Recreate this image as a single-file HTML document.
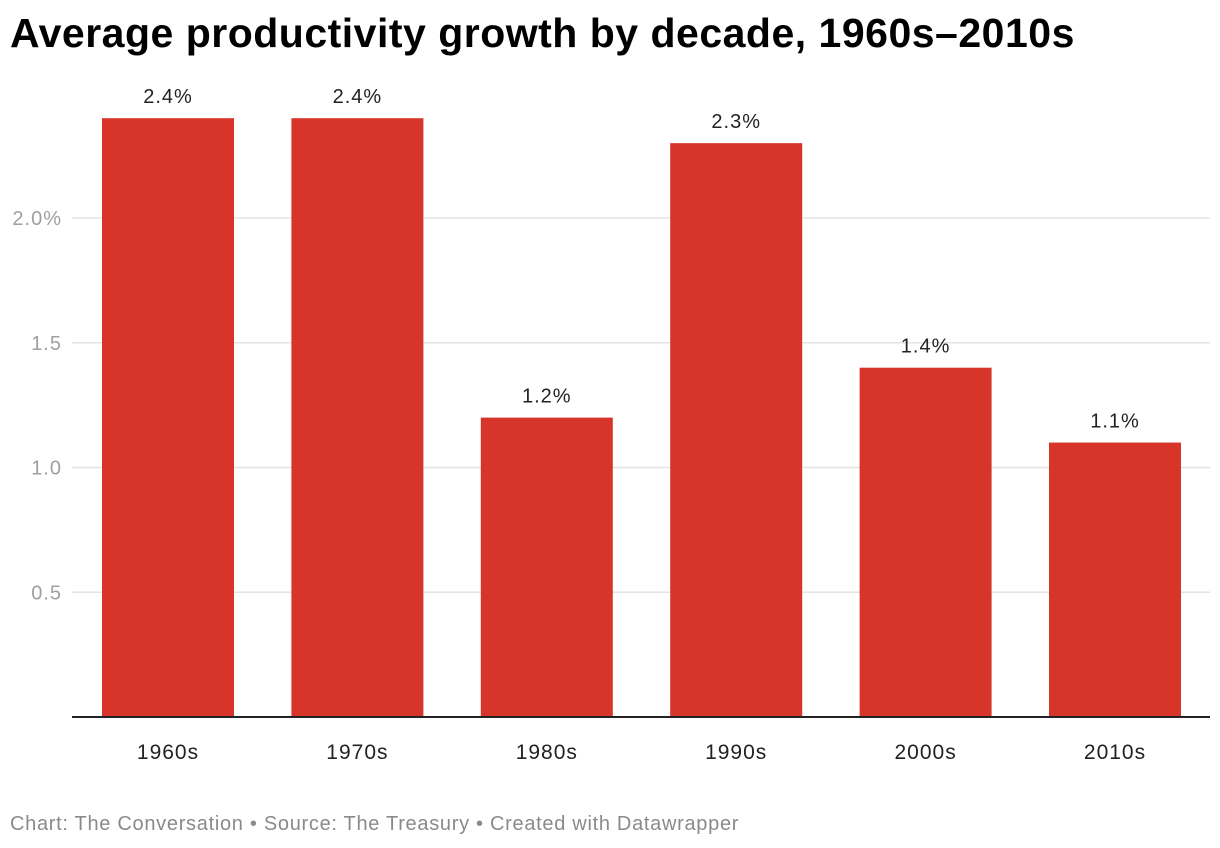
<!DOCTYPE html>
<html><head><meta charset="utf-8">
<style>
body{margin:0;background:#fff;width:1220px;height:848px;overflow:hidden;font-family:"Liberation Sans",Arial,sans-serif;}
#title{position:absolute;left:10px;top:10px;font-size:41px;font-weight:bold;color:#000;letter-spacing:0.5px;margin:0;white-space:nowrap;}
#footer{position:absolute;left:10px;top:813px;font-size:20px;color:#8a8a8a;white-space:nowrap;letter-spacing:0.7px;}
svg{position:absolute;left:0;top:0;}
svg text{letter-spacing:1px;}
</style></head><body>
<h1 id="title">Average productivity growth by decade, 1960s–2010s</h1>
<svg id="chart" width="1220" height="848"></svg>
<div id="footer">Chart: The Conversation • Source: The Treasury • Created with Datawrapper</div>
<script>
const categories=["1960s","1970s","1980s","1990s","2000s","2010s"];
const values=[2.4,2.4,1.2,2.3,1.4,1.1];
const valueLabels=["2.4%","2.4%","1.2%","2.3%","1.4%","1.1%"];
const ticks=[0.5,1.0,1.5,2.0];
const tickLabels=["0.5","1.0","1.5","2.0%"];
const NS="http://www.w3.org/2000/svg";
const svg=document.getElementById('chart');
const y0=717,unit=249.5,xLeft=72,xRight=1210,band=189.4,bw=132,firstX=102;
const y=v=>y0-v*unit;
const x=i=>firstX+i*band;
function mk(tag,attrs,text){const e=document.createElementNS(NS,tag);for(const k in attrs)e.setAttribute(k,attrs[k]);if(text!==undefined)e.textContent=text;svg.appendChild(e);return e;}
ticks.forEach((t,i)=>{
  const g=mk('line',{x1:xLeft,x2:xRight,y1:y(t),y2:y(t),stroke:'#e3e3e3','stroke-width':1.5});
  
  
  const l=mk('text',{x:62,y:y(t)+7,'text-anchor':'end','font-size':20,fill:'#a0a0a0','font-family':'Liberation Sans'},tickLabels[i]);
  
  
});
categories.forEach((c,i)=>{
  const r=mk('rect',{x:x(i),y:y(values[i]),width:bw,height:y0-y(values[i]),fill:'#d8352a'});
  
  
  const v=mk('text',{x:x(i)+bw/2,y:y(values[i])-15,'text-anchor':'middle','font-size':20,fill:'#222','font-family':'Liberation Sans'},valueLabels[i]);
  
  
  const t=mk('text',{x:x(i)+bw/2,y:759,'text-anchor':'middle','font-size':21,fill:'#222','font-family':'Liberation Sans'},c);
  
  
});
const base=mk('line',{x1:xLeft,x2:xRight,y1:y0,y2:y0,stroke:'#222','stroke-width':2});


</script>
</body></html>
